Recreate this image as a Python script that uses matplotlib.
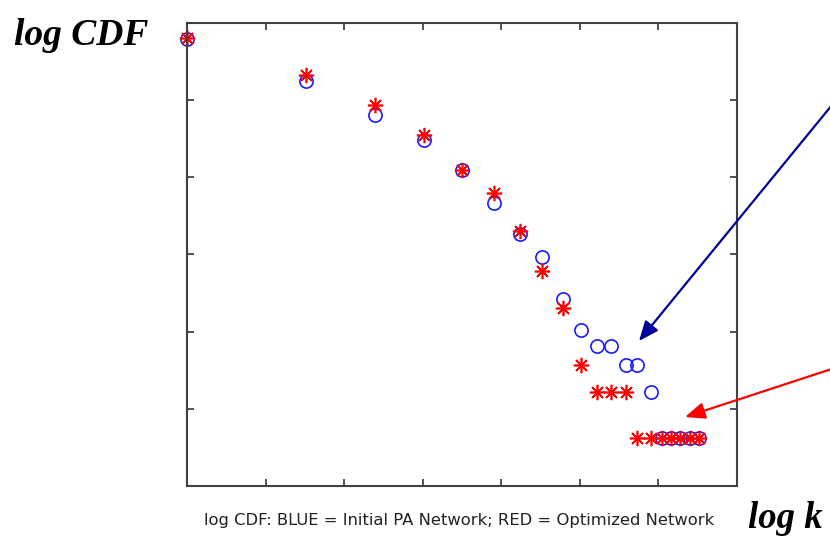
import numpy as np
import matplotlib
matplotlib.use('Agg')
import matplotlib.pyplot as plt

# log k and log CDF values
logk_blue = [0, 1.51, 2.39, 3.01, 3.50, 3.91, 4.24, 4.52, 4.79, 5.02,
             5.22, 5.40, 5.59, 5.73, 5.90, 6.04, 6.16, 6.28, 6.40, 6.51]
cdf_blue = [5.79, 5.25, 4.81, 4.48, 4.09, 3.67, 3.27, 2.97, 2.42, 2.02,
            1.81, 1.81, 1.57, 1.57, 1.22, 0.62, 0.62, 0.62, 0.62, 0.62]

logk_red = [0, 1.51, 2.39, 3.01, 3.50, 3.91, 4.24, 4.52, 4.79, 5.02,
            5.22, 5.40, 5.59, 5.73, 5.90, 6.04, 6.16, 6.28, 6.40, 6.51]
cdf_red = [5.81, 5.33, 4.94, 4.55, 4.09, 3.80, 3.30, 2.79, 2.31, 1.57,
           1.22, 1.22, 1.22, 0.62, 0.62, 0.62, 0.62, 0.62, 0.62, 0.62]

caption = 'log CDF: BLUE = Initial PA Network; RED = Optimized Network'

fig = plt.figure(figsize=(8.3, 5.36), dpi=100)
ax = fig.add_axes([0.2253, 0.0933, 0.6627, 0.8638])

ax.plot(logk_blue, cdf_blue, linestyle='none', marker='o', markersize=9.5,
        markerfacecolor='none', markeredgecolor='#1a1aff', markeredgewidth=1.2,
        clip_on=False)
ax.plot(logk_red, cdf_red, linestyle='none', marker=(8, 2, 0), markersize=11,
        markeredgecolor='#ff0000', markeredgewidth=1.2, clip_on=False)

ax.set_xlim(0, 7)
ax.set_ylim(0, 6)
ax.set_xticks(range(0, 8))
ax.set_yticks(range(0, 7))
ax.set_xticklabels([])
ax.set_yticklabels([])
ax.tick_params(direction='in', length=5, width=1.2, color='#333333',
               top=True, right=True)
for s in ax.spines.values():
    s.set_color('#404040')
    s.set_linewidth(1.5)

# titles
fig.text(14 / 830, 1 - 45 / 536, 'log CDF', family='Liberation Serif',
         weight='bold', style='italic', fontsize=27, ha='left', va='baseline')
fig.text(748 / 830, 1 - 528 / 536, 'log k', family='Liberation Serif',
         weight='bold', style='italic', fontsize=26.5, ha='left', va='baseline')
fig.text(459 / 830, 1 - 521 / 536, caption, fontsize=11.8, ha='center',
         va='center', color='#222222')

# arrows (start off the right edge, like the original)
ax.annotate('', xy=(639, 536 - 341), xycoords='figure pixels',
            xytext=(850, 536 - 83), textcoords='figure pixels',
            annotation_clip=False,
            arrowprops=dict(arrowstyle='-|>,head_length=1.2,head_width=0.5',
                            color='#000099', lw=1.6, shrinkA=0, shrinkB=0))
ax.annotate('', xy=(685, 536 - 417), xycoords='figure pixels',
            xytext=(850, 536 - 363), textcoords='figure pixels',
            annotation_clip=False,
            arrowprops=dict(arrowstyle='-|>,head_length=1.2,head_width=0.5',
                            color='#ff0000', lw=1.6, shrinkA=0, shrinkB=0))

fig.savefig('out.png', dpi=100)
